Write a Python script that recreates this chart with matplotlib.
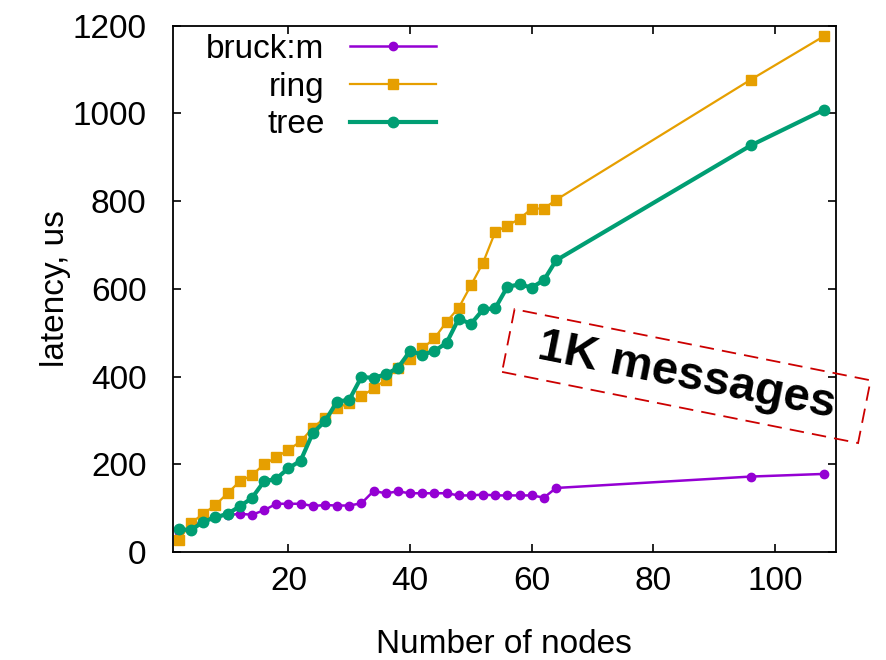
import matplotlib
matplotlib.use("Agg")
import matplotlib.pyplot as plt

plt.rcParams['font.family'] = ['Liberation Sans', 'DejaVu Sans']

nodes = [2, 4, 6, 8, 10, 12, 14, 16, 18, 20, 22, 24, 26, 28, 30, 32, 34,
         36, 38, 40, 42, 44, 46, 48, 50, 52, 54, 56, 58, 60, 62, 64, 96, 108]
bruck = [46, 56, 72, 80, 84, 87, 85, 95, 110, 110, 110, 105, 107, 106, 106,
         111, 139, 134, 138, 134, 134, 134, 134, 129, 129, 131, 129, 129, 129,
         129, 124, 146, 172, 178]
ring = [28, 66, 87, 107, 134, 161, 175, 200, 216, 233, 252, 283, 306, 328,
        340, 355, 373, 393, 420, 440, 464, 487, 525, 557, 608, 660, 730, 744,
        760, 783, 783, 803, 1077, 1176]
tree = [52, 50, 69, 79, 87, 104, 123, 161, 167, 191, 208, 271, 298, 343, 347,
        399, 397, 405, 420, 458, 450, 458, 477, 532, 520, 553, 556, 605, 610,
        603, 620, 665, 927, 1008]

series_names = ["bruck:m", "ring", "tree"]
colors = ["#9400D3", "#E69F00", "#009E73"]
xticks = [20, 40, 60, 80, 100]
yticks = [0, 200, 400, 600, 800, 1000, 1200]

fig = plt.figure(figsize=(8.87, 6.6), dpi=100)
ax = fig.add_axes([172.8 / 887, 1 - 552 / 660, (836 - 172.8) / 887, (552 - 25.7) / 660])

ax.plot(nodes, bruck, color=colors[0], lw=1.8, marker='o', ms=6, label=series_names[0])
ax.plot(nodes, ring, color=colors[1], lw=1.6, marker='s', ms=7, label=series_names[1])
ax.plot(nodes, tree, color=colors[2], lw=3, marker='o', ms=7.5, label=series_names[2])

ax.set_xlim(1, 110)
ax.set_ylim(0, 1200)
ax.set_xticks(xticks)
ax.set_yticks(yticks)
ax.tick_params(axis='both', direction='in', length=5.5, width=1.2, labelsize=24,
               top=True, right=True)
ax.tick_params(axis='x', pad=10)
ax.tick_params(axis='y', pad=19)
for s in ax.spines.values():
    s.set_linewidth(1.3)

ax.set_xlabel("Number of nodes", fontsize=24)
ax.set_ylabel("latency, us", fontsize=24)
ax.xaxis.set_label_coords(0.5, -0.176)
ax.xaxis.label.set_va('center')
ax.yaxis.set_label_coords(-0.1776, 0.5)
ax.yaxis.label.set_va('center')

leg = ax.legend(loc='upper right', bbox_to_anchor=(0.41, 1.0), frameon=False,
                markerfirst=False, fontsize=24, handlelength=2.6,
                handletextpad=0.75, labelspacing=0.2, borderpad=0.25,
                borderaxespad=0.0, numpoints=1)

ax.text(85.4, 401, "1K messages", fontsize=34, fontweight='bold', rotation=-11.3,
        rotation_mode='anchor', ha='center', va='center', color='black',
        bbox=dict(boxstyle='square,pad=0.64', mutation_aspect=0.33, fc='none',
                  ec='#CC0000', lw=1.3, ls=(0, (8, 4.5))))

fig.savefig("out.png", dpi=100)
